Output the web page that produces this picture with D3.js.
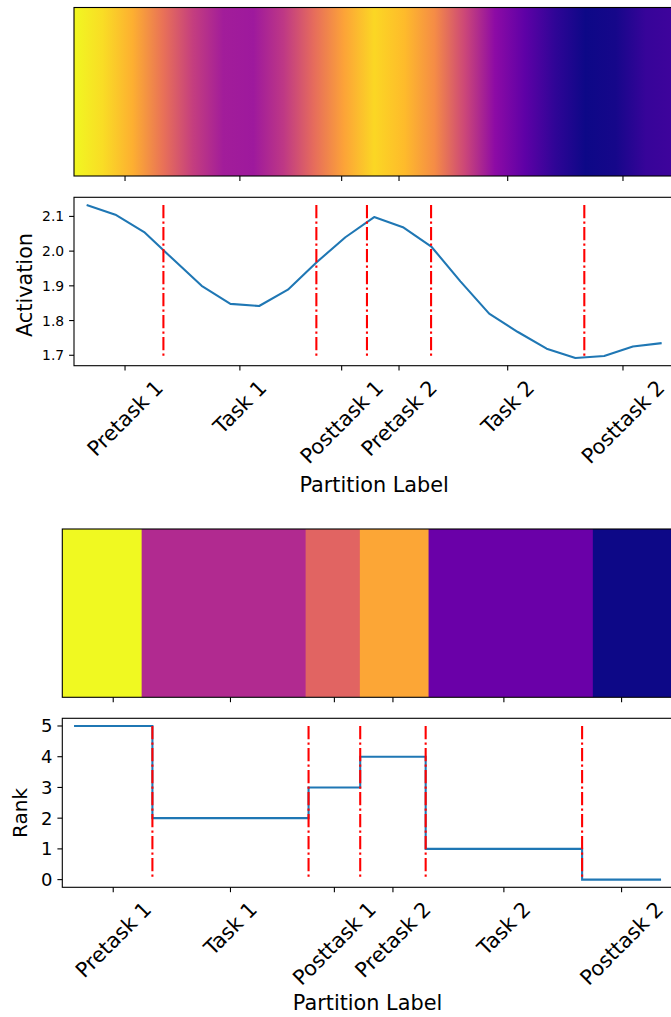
<!DOCTYPE html>
<html>
<head>
<meta charset="utf-8">
<script src="https://cdn.jsdelivr.net/npm/d3@7"></script>
<style>
    body { margin: 0; background: #fff; }
    text { font-family: "DejaVu Sans", sans-serif; fill: #000; }
</style>
</head>
<body>
<svg id="chart" width="671" height="1017"></svg>
<script>
const partitions = ["Pretask 1", "Task 1", "Posttask 1", "Pretask 2", "Task 2", "Posttask 2"];
// partition edges, in sample units
const boundaries = [0, 2.67, 7.99, 9.75, 11.98, 17.31, 20];
// mean activation per sample (21 samples)
const activation = [2.133, 2.105, 2.055, 1.977, 1.900, 1.848, 1.842, 1.889, 1.968, 2.040,
    2.098, 2.069, 2.012, 1.913, 1.820, 1.767, 1.719, 1.692, 1.698, 1.725, 1.735];
const ranks = [5, 2, 3, 4, 1, 0];
const activationTicks = [1.7, 1.8, 1.9, 2.0, 2.1];
const rankTicks = [0, 1, 2, 3, 4, 5];

const svg = d3.select("#chart");
const midpoints = partitions.map((p, i) => (boundaries[i] + boundaries[i + 1]) / 2);
// the heatmap image is stretched over [-0.5, 20.5]
const heatX = d3.scaleLinear().domain([0, 20]).range([-0.5, 20.5]);

const tickLen = 4.9, pad = 4.9, lw = 2.08;
const labelSize = 20.8;

const drawFrame = (g, x0, x1, y0, y1) => {
    g.append("rect")
        .attr("x", x0).attr("y", y0)
        .attr("width", x1 - x0).attr("height", y1 - y0)
        .attr("fill", "none").attr("stroke", "#000").attr("stroke-width", 1.1);
}

const drawBottomTicks = (g, x, y) => {
    g.selectAll(".xt").data(midpoints).join("line")
        .attr("x1", d => x(d)).attr("x2", d => x(d))
        .attr("y1", y).attr("y2", y + tickLen)
        .attr("stroke", "#000").attr("stroke-width", 1.1);
}

const drawXLabels = (g, x, y) => {
    const top = y + tickLen + pad;
    g.selectAll(".xl").data(partitions).join("text")
        .attr("text-anchor", "middle")
        .attr("dy", "0.346em")
        .style("font-size", labelSize + "px")
        .text(d => d)
        .attr("transform", function (d, i) {
            const w = this.getComputedTextLength();
            const cy = top + (w + labelSize * 1.164) * Math.SQRT1_2 / 2;
            return `translate(${x(midpoints[i])},${cy}) rotate(-45)`;
        });
}

const drawYAxis = (g, y, x0, ticks, fmt, size) => {
    g.selectAll(".yt").data(ticks).join("line")
        .attr("x1", x0 - tickLen).attr("x2", x0)
        .attr("y1", d => y(d)).attr("y2", d => y(d))
        .attr("stroke", "#000").attr("stroke-width", 1.1);
    g.selectAll(".yl").data(ticks).join("text")
        .attr("x", x0 - tickLen - pad)
        .attr("y", d => y(d))
        .attr("dy", "0.36em")
        .attr("text-anchor", "end")
        .style("font-size", size + "px")
        .text(fmt);
}

const drawVLines = (g, x, y, ext) => {
    g.selectAll(".vl").data(boundaries.slice(1, -1)).join("line")
        .attr("x1", d => x(d)).attr("x2", d => x(d))
        .attr("y1", y(ext[1])).attr("y2", y(ext[0]))
        .attr("stroke", "#ff0000").attr("stroke-width", lw)
        .attr("stroke-dasharray", "13.3,3.3,2.1,3.3");
}

// ---------- top figure: activation ----------
{
    const left = 74, right = 674.3;
    const x = d3.scaleLinear().domain([-0.44, 20.44]).range([left, right]);
    const heat = {top: 7.5, bottom: 176};
    const plot = {top: 197.3, bottom: 365.7};
    const ext = d3.extent(activation);
    const span = ext[1] - ext[0];
    const y = d3.scaleLinear().domain([ext[0] - 0.05 * span, ext[1] + 0.05 * span])
        .range([plot.bottom, plot.top]);
    const color = d3.scaleSequential(d3.interpolatePlasma).domain(ext);

    const g = svg.append("g");
    const defs = svg.append("defs");
    defs.append("clipPath").attr("id", "clipTop")
        .append("rect").attr("x", left).attr("y", heat.top)
        .attr("width", right - left).attr("height", heat.bottom - heat.top);
    const grad = defs.append("linearGradient").attr("id", "gradTop")
        .attr("gradientUnits", "userSpaceOnUse")
        .attr("x1", x(-0.5)).attr("x2", x(20.5)).attr("y1", 0).attr("y2", 0);
    grad.selectAll("stop").data(activation).join("stop")
        .attr("offset", (d, i) => i / (activation.length - 1))
        .attr("stop-color", d => color(d));

    g.append("rect")
        .attr("clip-path", "url(#clipTop)")
        .attr("x", x(-0.5)).attr("y", heat.top)
        .attr("width", x(20.5) - x(-0.5)).attr("height", heat.bottom - heat.top)
        .attr("fill", "url(#gradTop)");
    drawFrame(g, left, right, heat.top, heat.bottom);
    drawBottomTicks(g.append("g"), x, heat.bottom);

    g.append("path")
        .datum(activation)
        .attr("fill", "none")
        .attr("stroke", "#1f77b4")
        .attr("stroke-width", lw)
        .attr("stroke-linejoin", "round")
        .attr("d", d3.line().x((d, i) => x(i)).y(d => y(d)));
    drawVLines(g.append("g"), x, y, ext);
    drawFrame(g, left, right, plot.top, plot.bottom);
    drawBottomTicks(g.append("g"), x, plot.bottom);
    drawXLabels(g.append("g"), x, plot.bottom);
    drawYAxis(g.append("g"), y, left, activationTicks, d3.format(".1f"), 13.9);

    g.append("text")
        .attr("transform", `translate(32,285) rotate(-90)`)
        .attr("text-anchor", "middle")
        .style("font-size", labelSize + "px")
        .text("Activation");
    g.append("text")
        .attr("x", (left + right) / 2).attr("y", 491.7)
        .attr("text-anchor", "middle")
        .style("font-size", labelSize + "px")
        .text("Partition Label");
}

// ---------- bottom figure: rank ----------
{
    const left = 62.3, right = 672.8;
    const x = d3.scaleLinear().domain([-0.4, 20.4]).range([left, right]);
    const heat = {top: 529, bottom: 697.3};
    const plot = {top: 718.3, bottom: 887.3};
    const ext = d3.extent(ranks);
    const y = d3.scaleLinear().domain([ext[0] - 0.25, ext[1] + 0.25])
        .range([plot.bottom, plot.top]);
    const color = d3.scaleSequential(d3.interpolatePlasma).domain(ext);

    const g = svg.append("g");
    svg.select("defs").append("clipPath").attr("id", "clipBottom")
        .append("rect").attr("x", left).attr("y", heat.top)
        .attr("width", right - left).attr("height", heat.bottom - heat.top);

    g.append("g").attr("clip-path", "url(#clipBottom)")
        .selectAll("rect").data(ranks).join("rect")
        .attr("x", (d, i) => x(heatX(boundaries[i])))
        .attr("width", (d, i) => x(heatX(boundaries[i + 1])) - x(heatX(boundaries[i])) + 0.5)
        .attr("y", heat.top).attr("height", heat.bottom - heat.top)
        .attr("fill", d => color(d));
    drawFrame(g, left, right, heat.top, heat.bottom);
    drawBottomTicks(g.append("g"), x, heat.bottom);

    const steps = boundaries.map((b, i) => [b, ranks[Math.min(i, ranks.length - 1)]]);
    g.append("path")
        .datum(steps)
        .attr("fill", "none")
        .attr("stroke", "#1f77b4")
        .attr("stroke-width", lw)
        .attr("d", d3.line().curve(d3.curveStepAfter).x(d => x(d[0])).y(d => y(d[1])));
    drawVLines(g.append("g"), x, y, ext);
    drawFrame(g, left, right, plot.top, plot.bottom);
    drawBottomTicks(g.append("g"), x, plot.bottom);
    drawXLabels(g.append("g"), x, plot.bottom);
    drawYAxis(g.append("g"), y, left, rankTicks, d => d, 18);

    g.append("text")
        .attr("transform", `translate(27,813) rotate(-90)`)
        .attr("text-anchor", "middle")
        .style("font-size", "20px")
        .text("Rank");
    g.append("text")
        .attr("x", (left + right) / 2).attr("y", 1010)
        .attr("text-anchor", "middle")
        .style("font-size", labelSize + "px")
        .text("Partition Label");
}
</script>
</body>
</html>
